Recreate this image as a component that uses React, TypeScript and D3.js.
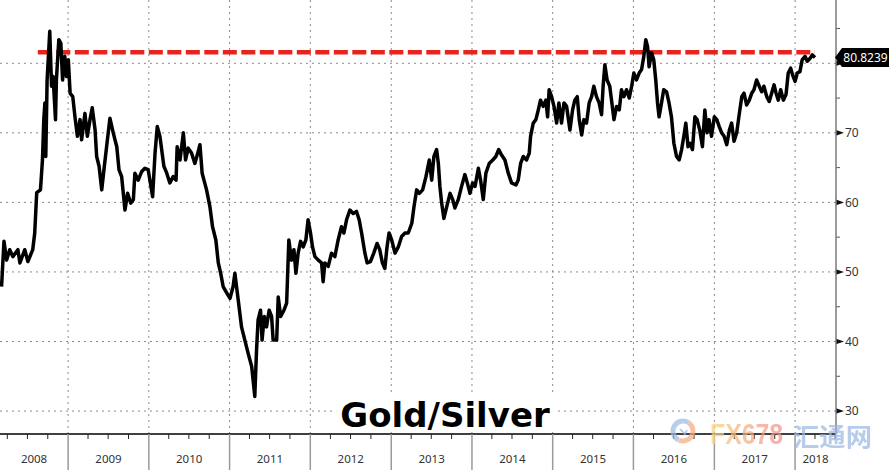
import { useEffect, useRef } from 'react';
import * as d3 from 'd3';

type Pt = [string, number];

// Gold/Silver ratio (roughly weekly-to-fortnightly points)
const y2008: Pt[] = [
  ['2008-03-06', 47.9], ['2008-03-17', 54.4], ['2008-03-29', 51.7], ['2008-04-12', 53.2], ['2008-04-26', 52.2],
  ['2008-05-19', 53.2], ['2008-05-28', 51.3], ['2008-06-19', 53.2], ['2008-07-03', 51.5], ['2008-07-25', 53.2],
  ['2008-08-03', 55.6], ['2008-08-12', 61.4], ['2008-08-29', 61.8], ['2008-09-07', 66.1], ['2008-09-13', 71.9],
  ['2008-09-18', 74.3], ['2008-09-22', 66.6], ['2008-09-28', 77.6], ['2008-10-10', 84.6], ['2008-10-18', 76.7],
  ['2008-10-25', 78.1], ['2008-11-05', 71.9], ['2008-11-09', 77.6], ['2008-11-20', 83.4], ['2008-11-29', 82.9],
  ['2008-12-07', 77.6], ['2008-12-17', 81.0], ['2008-12-25', 78.1],
];
const y2009: Pt[] = [
  ['2009-01-02', 80.5], ['2009-01-10', 75.7], ['2009-01-22', 75.2], ['2009-02-01', 72.3], ['2009-02-12', 69.5],
  ['2009-02-24', 71.9], ['2009-03-03', 69.0], ['2009-03-18', 72.8], ['2009-03-29', 69.5], ['2009-04-10', 71.9],
  ['2009-04-20', 73.6], ['2009-05-03', 70.4], ['2009-05-10', 66.6], ['2009-05-21', 65.2], ['2009-06-02', 61.8],
  ['2009-06-12', 64.7], ['2009-06-24', 68.0], ['2009-07-09', 72.1], ['2009-07-24', 70.0], ['2009-08-09', 68.0],
  ['2009-08-19', 64.7], ['2009-08-31', 63.7], ['2009-09-15', 58.9], ['2009-09-27', 61.3], ['2009-10-11', 59.9],
  ['2009-10-23', 60.4], ['2009-10-30', 64.2], ['2009-11-14', 63.2], ['2009-11-29', 64.4], ['2009-12-14', 64.9],
  ['2009-12-29', 64.7],
];
const y2010: Pt[] = [
  ['2010-01-18', 60.8], ['2010-01-29', 67.1], ['2010-02-08', 70.9], ['2010-02-20', 69.5], ['2010-03-10', 65.2],
  ['2010-03-23', 64.2], ['2010-04-06', 62.8], ['2010-04-21', 63.7], ['2010-05-04', 63.2], ['2010-05-09', 68.0],
  ['2010-05-22', 66.1], ['2010-06-06', 70.0], ['2010-06-16', 66.1], ['2010-06-28', 67.8], ['2010-07-13', 67.1],
  ['2010-07-28', 65.6], ['2010-08-08', 66.8], ['2010-08-20', 68.3], ['2010-08-30', 64.2], ['2010-09-19', 61.8],
  ['2010-10-04', 59.4], ['2010-10-16', 56.5], ['2010-10-31', 54.6], ['2010-11-11', 51.3], ['2010-11-22', 49.8],
  ['2010-12-03', 47.9], ['2010-12-21', 46.9],
];
const y2011: Pt[] = [
  ['2011-01-03', 46.2], ['2011-01-17', 47.9], ['2011-01-25', 49.8], ['2011-02-09', 46.0], ['2011-02-24', 42.1],
  ['2011-03-11', 40.2], ['2011-03-26', 38.3], ['2011-04-11', 36.4], ['2011-04-25', 32.1], ['2011-05-03', 38.8],
  ['2011-05-10', 43.1], ['2011-05-21', 44.5], ['2011-05-28', 40.2], ['2011-06-07', 43.6], ['2011-06-17', 42.1],
  ['2011-06-29', 44.5], ['2011-07-10', 43.6], ['2011-07-17', 40.2], ['2011-08-02', 40.2], ['2011-08-09', 46.4],
  ['2011-08-20', 43.6], ['2011-09-04', 44.5], ['2011-09-16', 45.5], ['2011-09-26', 54.6], ['2011-10-08', 51.7],
  ['2011-10-19', 53.2], ['2011-10-28', 49.8], ['2011-11-07', 52.7], ['2011-11-18', 54.4], ['2011-11-30', 53.6],
  ['2011-12-12', 54.6], ['2011-12-22', 57.5],
];
const y2012: Pt[] = [
  ['2012-01-02', 55.6], ['2012-01-11', 53.6], ['2012-01-22', 52.2], ['2012-02-06', 51.7], ['2012-02-21', 51.3],
  ['2012-02-28', 48.6], ['2012-03-07', 51.3], ['2012-03-22', 50.8], ['2012-04-06', 52.7], ['2012-04-21', 52.2],
  ['2012-05-06', 54.6], ['2012-05-21', 56.5], ['2012-06-01', 55.6], ['2012-06-13', 57.5], ['2012-06-28', 58.9],
  ['2012-07-13', 58.4], ['2012-07-28', 58.7], ['2012-08-09', 57.5], ['2012-08-20', 55.6], ['2012-09-04', 52.7],
  ['2012-09-14', 51.3], ['2012-09-29', 51.5], ['2012-10-14', 52.7], ['2012-10-29', 54.1], ['2012-11-10', 53.2],
  ['2012-11-22', 51.3], ['2012-12-03', 50.5], ['2012-12-13', 53.6], ['2012-12-22', 55.6],
];
const y2013: Pt[] = [
  ['2013-01-03', 54.6], ['2013-01-18', 52.7], ['2013-02-02', 53.6], ['2013-02-17', 55.1], ['2013-03-04', 55.6],
  ['2013-03-19', 55.6], ['2013-04-04', 57.0], ['2013-04-14', 59.4], ['2013-04-26', 61.8], ['2013-05-08', 61.3],
  ['2013-05-23', 61.8], ['2013-06-07', 63.7], ['2013-06-22', 66.1], ['2013-07-03', 63.2], ['2013-07-13', 66.6],
  ['2013-07-25', 67.6], ['2013-08-02', 65.6], ['2013-08-09', 62.3], ['2013-08-17', 59.9], ['2013-08-27', 57.7],
  ['2013-09-09', 59.4], ['2013-09-24', 61.3], ['2013-10-06', 60.4], ['2013-10-16', 59.2], ['2013-10-31', 60.4],
  ['2013-11-15', 62.3], ['2013-11-30', 64.0], ['2013-12-11', 62.8], ['2013-12-23', 61.3],
];
const y2014: Pt[] = [
  ['2014-01-04', 62.8], ['2014-01-15', 62.3], ['2014-01-30', 64.9], ['2014-02-09', 63.2], ['2014-02-21', 60.4],
  ['2014-03-05', 64.2], ['2014-03-20', 65.6], ['2014-04-05', 66.1], ['2014-04-19', 66.6], ['2014-05-02', 67.6],
  ['2014-05-15', 66.8], ['2014-05-30', 66.1], ['2014-06-14', 64.2], ['2014-06-29', 62.8], ['2014-07-19', 62.5],
  ['2014-07-29', 63.2], ['2014-08-09', 65.6], ['2014-08-21', 66.6], ['2014-09-05', 66.1], ['2014-09-17', 67.1],
  ['2014-09-23', 69.5], ['2014-10-05', 71.4], ['2014-10-17', 71.9], ['2014-10-28', 73.3], ['2014-11-07', 74.7],
  ['2014-11-19', 73.8], ['2014-12-01', 74.7], ['2014-12-09', 72.3], ['2014-12-16', 76.2], ['2014-12-27', 75.2],
];
const y2015: Pt[] = [
  ['2015-01-07', 73.8], ['2015-01-19', 71.4], ['2015-01-29', 74.3], ['2015-02-10', 71.4], ['2015-02-21', 74.3],
  ['2015-03-05', 73.8], ['2015-03-20', 70.4], ['2015-04-01', 73.3], ['2015-04-11', 74.7], ['2015-04-22', 75.2],
  ['2015-05-01', 71.9], ['2015-05-12', 69.7], ['2015-05-22', 71.9], ['2015-06-03', 71.4], ['2015-06-15', 74.3],
  ['2015-06-26', 75.2], ['2015-07-06', 76.7], ['2015-07-18', 75.2], ['2015-07-30', 74.3], ['2015-08-10', 72.6],
  ['2015-08-17', 76.7], ['2015-08-25', 79.8], ['2015-09-04', 77.6], ['2015-09-16', 76.7], ['2015-09-24', 74.7],
  ['2015-10-05', 71.9], ['2015-10-17', 73.8], ['2015-10-29', 73.3], ['2015-11-08', 76.2], ['2015-11-19', 75.2],
  ['2015-12-01', 76.2], ['2015-12-13', 75.0], ['2015-12-24', 76.7],
];
const y2016: Pt[] = [
  ['2016-01-03', 78.6], ['2016-01-15', 77.6], ['2016-01-27', 78.6], ['2016-02-07', 79.1], ['2016-02-17', 81.0],
  ['2016-02-26', 83.4], ['2016-03-05', 82.4], ['2016-03-12', 79.5], ['2016-03-23', 81.5], ['2016-04-02', 80.5],
  ['2016-04-11', 77.6], ['2016-04-19', 74.3], ['2016-04-26', 72.3], ['2016-05-07', 74.3], ['2016-05-17', 76.2],
  ['2016-05-30', 75.9], ['2016-06-10', 74.3], ['2016-06-21', 72.3], ['2016-07-02', 68.5], ['2016-07-14', 66.6],
  ['2016-07-26', 66.1], ['2016-08-06', 67.6], ['2016-08-16', 69.5], ['2016-08-25', 71.4], ['2016-09-04', 68.0],
  ['2016-09-13', 68.5], ['2016-09-24', 67.6], ['2016-10-05', 72.3], ['2016-10-15', 71.9], ['2016-10-27', 70.4],
  ['2016-11-08', 68.0], ['2016-11-19', 73.3], ['2016-11-29', 70.0], ['2016-12-08', 71.9], ['2016-12-19', 69.5],
];
const y2017: Pt[] = [
  ['2017-01-01', 72.3], ['2017-01-12', 71.9], ['2017-01-23', 70.9], ['2017-02-03', 70.0], ['2017-02-14', 69.5],
  ['2017-02-26', 68.3], ['2017-03-10', 70.4], ['2017-03-20', 71.4], ['2017-03-31', 68.8], ['2017-04-12', 70.0],
  ['2017-04-24', 72.8], ['2017-05-05', 75.2], ['2017-05-15', 75.7], ['2017-05-27', 74.0], ['2017-06-08', 74.7],
  ['2017-06-19', 75.7], ['2017-06-29', 76.2], ['2017-07-11', 77.6], ['2017-07-23', 76.7], ['2017-08-03', 75.9],
  ['2017-08-13', 76.7], ['2017-08-26', 75.2], ['2017-09-06', 74.5], ['2017-09-17', 75.7], ['2017-09-28', 76.9],
  ['2017-10-07', 75.7], ['2017-10-17', 74.7], ['2017-10-28', 76.2], ['2017-11-09', 74.7], ['2017-11-21', 75.5],
  ['2017-12-01', 78.6], ['2017-12-12', 79.3], ['2017-12-21', 78.3],
];
const y2018: Pt[] = [
  ['2018-01-01', 77.4], ['2018-01-11', 78.6], ['2018-01-23', 78.8], ['2018-02-02', 80.5], ['2018-02-15', 81.0],
  ['2018-02-25', 80.3], ['2018-03-09', 80.7], ['2018-03-20', 81.2], ['2018-04-01', 80.8239],
];

const title = 'Gold/Silver';
const lastValue = 80.8239;
const resistanceLevel = 81.6;
const resistanceStart = '2008-08-17';
const yMajorTicks = [30, 40, 50, 60, 70, 80];
const yMinorTicks = [35, 45, 55, 65, 75, 85];
const yearLabels = [2008, 2009, 2010, 2011, 2012, 2013, 2014, 2015, 2016, 2017, 2018];
const xDomain = ['2008-02-28', '2018-07-05'];
const yDomain = [26.7, 89.1];

const W = 890;
const H = 470;
const plotRight = 836;
const plotBottom = 434;
const uiFont = '"Noto Sans", "DejaVu Sans", sans-serif';

export default function App() {
  const svgRef = useRef<SVGSVGElement>(null);

  useEffect(() => {
    if (!svgRef.current) return;
    const svg = d3.select(svgRef.current);
    svg.selectAll('*').remove();

    const parse = d3.timeParse('%Y-%m-%d');
    const series = [...y2008, ...y2009, ...y2010, ...y2011, ...y2012, ...y2013, ...y2014, ...y2015, ...y2016, ...y2017, ...y2018]
      .map(([d, v]) => ({ date: parse(d) as Date, value: v }));

    const x = d3.scaleTime().domain(xDomain.map(d => parse(d) as Date)).range([0, plotRight]);
    const y = d3.scaleLinear().domain(yDomain).range([plotBottom, 0]);

    const defs = svg.append('defs');
    defs.append('filter').attr('id', 'blur').attr('x', '-5%').attr('y', '-200%').attr('width', '110%').attr('height', '500%')
      .append('feGaussianBlur').attr('stdDeviation', 1.6);
    const grad = defs.append('linearGradient').attr('id', 'fxgrad').attr('x1', '0%').attr('x2', '100%');
    grad.append('stop').attr('offset', '0%').attr('stop-color', '#f8d77e');
    grad.append('stop').attr('offset', '45%').attr('stop-color', '#f6b07e');
    grad.append('stop').attr('offset', '100%').attr('stop-color', '#f28f8c');

    svg.append('rect').attr('width', W).attr('height', H).attr('fill', '#fff');

    const yearStarts = yearLabels.slice(1).map(yr => new Date(yr, 0, 1));

    // Grid lines
    svg.append('g')
      .selectAll('line')
      .data(yMajorTicks)
      .join('line')
      .attr('x1', 0).attr('x2', plotRight)
      .attr('y1', d => y(d)).attr('y2', d => y(d))
      .attr('stroke', '#8a8a8a').attr('stroke-width', 1).attr('stroke-dasharray', '2,4');

    svg.append('g')
      .selectAll('line')
      .data(yearStarts)
      .join('line')
      .attr('x1', d => x(d)).attr('x2', d => x(d))
      .attr('y1', 0).attr('y2', plotBottom)
      .attr('stroke', '#8a8a8a').attr('stroke-width', 1).attr('stroke-dasharray', '2,4');

    // Title with white backing
    const titleG = svg.append('g');
    const titleText = titleG.append('text')
      .attr('x', 445).attr('y', 427)
      .attr('text-anchor', 'middle')
      .style('font-family', '"DejaVu Sans", sans-serif')
      .style('font-weight', 'bold')
      .style('font-size', '34px')
      .style('fill', '#000')
      .text(title);
    const bb = (titleText.node() as SVGTextElement).getBBox();
    titleG.insert('rect', 'text')
      .attr('x', bb.x - 4).attr('y', bb.y)
      .attr('width', bb.width + 8).attr('height', plotBottom - 2 - bb.y)
      .attr('fill', '#fff');

    // Resistance line (dashed red with soft shadow)
    const resX1 = x(parse(resistanceStart) as Date);
    const resX2 = x(series[series.length - 1].date);
    svg.append('line')
      .attr('x1', resX1).attr('x2', resX2)
      .attr('y1', y(resistanceLevel) + 4).attr('y2', y(resistanceLevel) + 4)
      .attr('stroke', '#9a9a9a').attr('stroke-width', 4).attr('stroke-dasharray', '14,4.5')
      .attr('opacity', 0.7)
      .attr('filter', 'url(#blur)');
    svg.append('line')
      .attr('x1', resX1).attr('x2', resX2)
      .attr('y1', y(resistanceLevel)).attr('y2', y(resistanceLevel))
      .attr('stroke', '#e8221c').attr('stroke-width', 4.5).attr('stroke-dasharray', '14,4.5');

    // Ratio line
    const line = d3.line<{ date: Date; value: number }>()
      .x(d => x(d.date))
      .y(d => y(d.value));
    svg.append('path')
      .datum(series)
      .attr('fill', 'none')
      .attr('stroke', '#000')
      .attr('stroke-width', 3.5)
      .attr('stroke-linejoin', 'round')
      .attr('d', line);

    // X axis
    svg.append('line')
      .attr('x1', 0).attr('x2', plotRight)
      .attr('y1', plotBottom).attr('y2', plotBottom)
      .attr('stroke', '#000').attr('stroke-width', 1.4);

    const quarters = d3.timeMonth.every(3)!.range(x.domain()[0], x.domain()[1]).filter(d => d.getMonth() !== 0);
    svg.append('g')
      .selectAll('line')
      .data(quarters)
      .join('line')
      .attr('x1', d => x(d)).attr('x2', d => x(d))
      .attr('y1', plotBottom).attr('y2', plotBottom + 5)
      .attr('stroke', '#222').attr('stroke-width', 1);

    svg.append('g')
      .selectAll('line')
      .data(yearStarts)
      .join('line')
      .attr('x1', d => x(d)).attr('x2', d => x(d))
      .attr('y1', plotBottom).attr('y2', H)
      .attr('stroke', '#9a9a9a').attr('stroke-width', 1.5);

    svg.append('g')
      .selectAll('text')
      .data(yearLabels)
      .join('text')
      .attr('x', yr => {
        const a = Math.max(0, x(new Date(yr, 0, 1)));
        const b = Math.min(plotRight, x(new Date(yr + 1, 0, 1)));
        return (a + b) / 2;
      })
      .attr('y', 463)
      .attr('text-anchor', 'middle')
      .style('font-family', uiFont)
      .style('font-size', '11.5px')
      .style('fill', '#333')
      .text(yr => String(yr));

    // Right axis (the 80 label sits under the last-value tag, so it is left out)
    const yAxis = svg.append('g').attr('transform', `translate(${plotRight},0)`);
    yAxis.call(
      d3.axisRight(y)
        .tickValues(yMajorTicks.filter(t => Math.abs(y(t) - y(lastValue)) > 12))
        .tickSize(0).tickPadding(9).tickFormat(d3.format('d'))
    );
    yAxis.select('.domain').remove();
    yAxis.selectAll('text')
      .style('font-family', uiFont)
      .style('font-size', '12px')
      .style('fill', '#333');

    yAxis.append('g')
      .selectAll('path')
      .data(yMajorTicks)
      .join('path')
      .attr('d', d => `M0,${y(d) - 2.8}L8,${y(d)}L0,${y(d) + 2.8}Z`)
      .attr('fill', '#111');

    yAxis.append('g')
      .selectAll('line')
      .data(yMinorTicks)
      .join('line')
      .attr('x1', 0).attr('x2', 4)
      .attr('y1', d => y(d)).attr('y2', d => y(d))
      .attr('stroke', '#555').attr('stroke-width', 1);

    yAxis.append('line')
      .attr('x1', 0).attr('x2', 0)
      .attr('y1', 0).attr('y2', plotBottom)
      .attr('stroke', '#7a7a7a').attr('stroke-width', 1.5);

    // Last value tag
    const tag = yAxis.append('g').attr('transform', `translate(0,${y(lastValue)})`);
    tag.append('path')
      .attr('d', 'M-1,0L6,-9.5L53,-9.5L53,9.5L6,9.5Z')
      .attr('fill', '#000');
    tag.append('text')
      .attr('x', 29.5).attr('dy', '0.36em')
      .attr('text-anchor', 'middle')
      .style('font-family', uiFont)
      .style('font-size', '12px')
      .style('fill', '#fff')
      .text(d3.format('.4f')(lastValue));

    // Watermark
    const wm = svg.append('g').attr('opacity', 0.72);
    const ring = d3.arc<{ s: number; e: number }>().innerRadius(7.5).outerRadius(12.5)
      .startAngle(d => d.s).endAngle(d => d.e);
    const logo = wm.append('g').attr('transform', 'translate(683,431)');
    logo.append('path').attr('d', ring({ s: -2.7, e: 0.6 }) as string).attr('fill', '#9fbbe6');
    logo.append('path').attr('d', ring({ s: 0.6, e: 3.55 }) as string).attr('fill', '#f4ad84');
    logo.append('path').attr('d', 'M-3,-2L2,3L4,-1').attr('fill', 'none').attr('stroke', '#9fbbe6').attr('stroke-width', 2);
    wm.append('text')
      .attr('x', 710).attr('y', 444)
      .attr('textLength', 73).attr('lengthAdjust', 'spacingAndGlyphs')
      .style('font-family', '"Liberation Sans", sans-serif')
      .style('font-weight', 'bold')
      .style('font-size', '30px')
      .style('fill', 'url(#fxgrad)')
      .text('FX678');
    wm.append('text')
      .attr('x', 793).attr('y', 446)
      .attr('textLength', 79).attr('lengthAdjust', 'spacingAndGlyphs')
      .style('font-family', '"Noto Sans CJK SC", sans-serif')
      .style('font-weight', 'bold')
      .style('font-size', '25px')
      .style('fill', '#9cb8e4')
      .text('汇通网');
  }, []);

  return (
    <svg
      ref={svgRef}
      width={W}
      height={H}
      viewBox={`0 0 ${W} ${H}`}
      style={{ position: 'fixed', left: 0, top: 0, display: 'block' }}
    />
  );
}
